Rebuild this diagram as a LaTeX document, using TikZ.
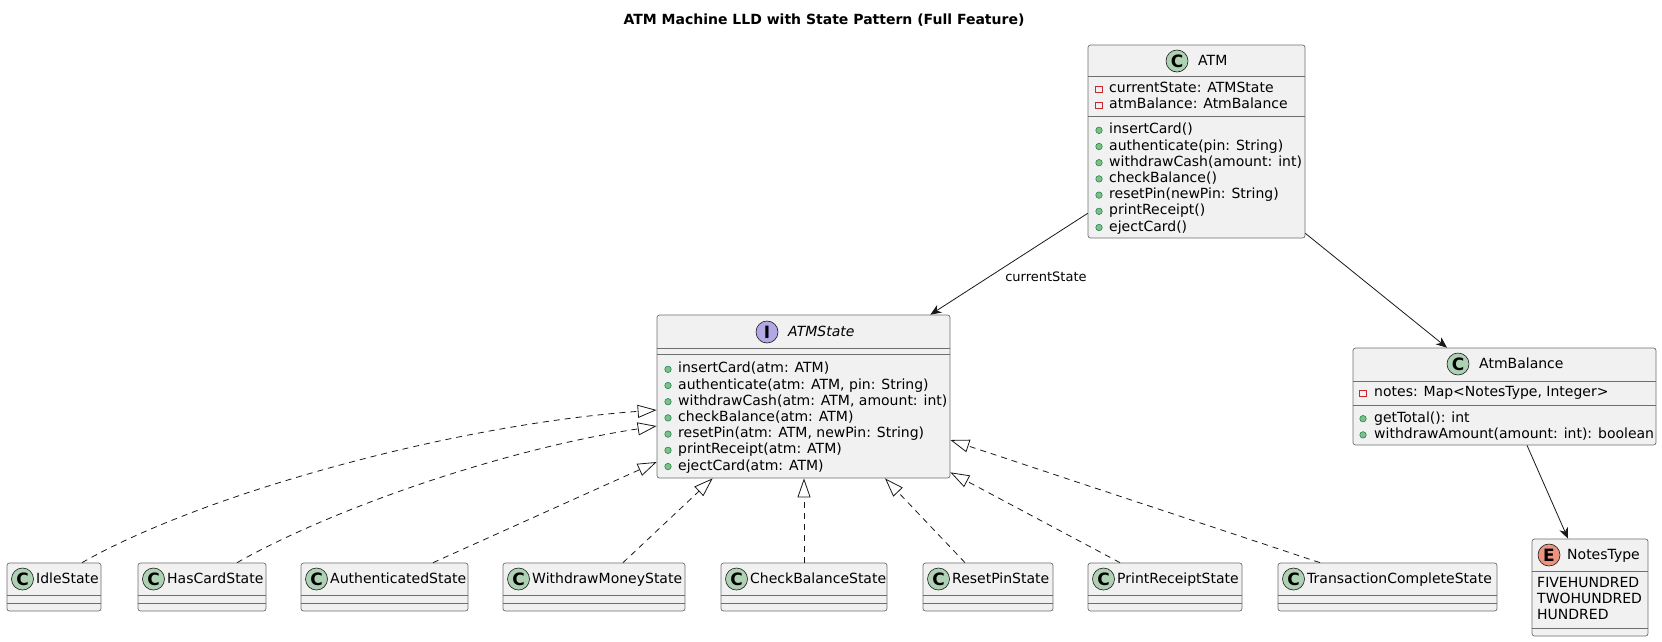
\documentclass[tikz,border=0pt]{standalone}
\usepackage{fontspec}
\setmainfont{DejaVu Sans}
\usetikzlibrary{arrows.meta,calc}

\definecolor{boxfill}{HTML}{F1F1F1}
\definecolor{boxline}{HTML}{6E6E6E}
\definecolor{spotc}{HTML}{ADD1B2}
\definecolor{spoti}{HTML}{B4A7E5}
\definecolor{spote}{HTML}{EB937F}
\definecolor{pubfill}{HTML}{84BE84}
\definecolor{publine}{HTML}{038048}
\definecolor{privline}{HTML}{C82930}
\definecolor{edgeline}{HTML}{181818}

\tikzset{
  classbox/.style={draw=boxline, fill=boxfill, rounded corners=2.5pt, line width=0.7pt, inner sep=0pt},
  sepline/.style={draw=boxline, line width=0.7pt},
  spot/.style={circle, draw=edgeline, line width=0.6pt, minimum size=22pt, inner sep=0pt,
    font=\fontsize{17}{17}\selectfont\bfseries},
  member/.style={anchor=west, inner sep=0pt, text height=10pt, text depth=3pt,
    font=\fontsize{14}{16}\selectfont},
  pub/.style={circle, draw=publine, fill=pubfill, minimum size=6.5pt, inner sep=0pt, line width=0.5pt},
  priv/.style={rectangle, draw=privline, minimum size=6.5pt, inner sep=0pt, line width=0.7pt},
  assoc/.style={draw=edgeline, line width=0.8pt, -{Stealth[length=11pt,width=9pt,inset=3.5pt]}},
  realize/.style={draw=edgeline, line width=0.8pt, dash pattern=on 6pt off 5pt,
    -{Triangle[open,length=19pt,width=13pt]}},
}

\begin{document}
\begin{tikzpicture}[x=1pt,y=-1pt]
\useasboundingbox (0,0) rectangle (1662,641);
\node[font=\fontsize{14}{16}\selectfont\bfseries] (title) at (824,20) {ATM Machine LLD with State Pattern (Full Feature)};

% ATM
\node[classbox, minimum width=217pt, minimum height=193pt] (atm) at (1196.5,141.5) {};
\draw[sepline] (atm.west |- 0,76) -- (atm.east |- 0,76);
\draw[sepline] (atm.west |- 0,116) -- (atm.east |- 0,116);
\node[spot, fill=spotc] (atm-spot) at (1177,61) {C};
\node[member] (atm-name) at (1198,62) {ATM};
\foreach \txt [count=\i] in {currentState: ATMState, atmBalance: AtmBalance}{
  \node[priv] (atm-pk\i) at (1099,{73.3+16*\i}) {};
  \node[member] (atm-a\i) at (1109,{73.3+16*\i}) {\txt};
}
\foreach \txt [count=\i] in {insertCard(), authenticate(pin: String), withdrawCash(amount: int),
    checkBalance(), resetPin(newPin: String), printReceipt(), ejectCard()}{
  \node[pub] (atm-mk\i) at (1099,{114.1+16.2*\i}) {};
  \node[member] (atm-m\i) at (1109,{114.1+16.2*\i}) {\txt};
}

% ATMState
\node[classbox, minimum width=293pt, minimum height=163pt] (atmstate) at (803.5,396.5) {};
\draw[sepline] (atmstate.west |- 0,348) -- (atmstate.east |- 0,348);
\draw[sepline] (atmstate.west |- 0,354) -- (atmstate.east |- 0,354);
\node[spot, fill=spoti] (atmstate-spot) at (767,332) {I};
\node[member, font=\fontsize{14}{16}\selectfont\itshape] (atmstate-name) at (788,333) {ATMState};
\foreach \txt [count=\i] in {insertCard(atm: ATM), {authenticate(atm: ATM, pin: String)},
    {withdrawCash(atm: ATM, amount: int)}, checkBalance(atm: ATM),
    {resetPin(atm: ATM, newPin: String)}, printReceipt(atm: ATM), ejectCard(atm: ATM)}{
  \node[pub] (atmstate-mk\i) at (668,{353.1+16.2*\i}) {};
  \node[member] (atmstate-m\i) at (678,{353.1+16.2*\i}) {\txt};
}

% AtmBalance
\node[classbox, minimum width=303pt, minimum height=97pt] (atmbal) at (1504.5,396.5) {};
\draw[sepline] (atmbal.west |- 0,381) -- (atmbal.east |- 0,381);
\draw[sepline] (atmbal.west |- 0,405) -- (atmbal.east |- 0,405);
\node[spot, fill=spotc] (atmbal-spot) at (1458,364) {C};
\node[member] (atmbal-name) at (1479,365) {AtmBalance};
\node[priv] (atmbal-pk1) at (1363,393.3) {};
\node[member] (atmbal-a1) at (1374,393.3) {notes: Map<NotesType, Integer>};
\foreach \txt [count=\i] in {getTotal(): int, withdrawAmount(amount: int): boolean}{
  \node[pub] (atmbal-mk\i) at (1363,{402.5+16.2*\i}) {};
  \node[member] (atmbal-m\i) at (1374,{402.5+16.2*\i}) {\txt};
}

% NotesType
\node[classbox, minimum width=116pt, minimum height=97pt] (notes) at (1590,587.5) {};
\draw[sepline] (notes.west |- 0,571) -- (notes.east |- 0,571);
\draw[sepline] (notes.west |- 0,628) -- (notes.east |- 0,628);
\node[spot, fill=spote] (notes-spot) at (1549,555) {E};
\node[member] (notes-name) at (1567,556) {NotesType};
\foreach \txt [count=\i] in {FIVEHUNDRED, TWOHUNDRED, HUNDRED}
  \node[member] (notes-v\i) at (1537,{568+16*\i}) {\txt};

% states
\foreach \nm/\lx/\rx/\lbl in {idle/7/101/IdleState, hascard/138/266/HasCardState,
    auth/301/468/AuthenticatedState, withdraw/503/685/WithdrawMoneyState,
    checkbal/721/887/CheckBalanceState, resetpin/923/1053/ResetPinState,
    printrec/1088/1242/PrintReceiptState, txdone/1278/1497/TransactionCompleteState}{
  \pgfmathsetmacro\w{\rx-\lx}
  \pgfmathsetmacro\cx{(\lx+\rx)/2}
  \node[classbox, minimum width=\w pt, minimum height=48pt] (\nm) at (\cx,587) {};
  \draw[sepline] (\nm.west |- 0,595) -- (\nm.east |- 0,595);
  \draw[sepline] (\nm.west |- 0,603) -- (\nm.east |- 0,603);
  \node[spot, fill=spotc] (\nm-spot) at ({\lx+15.5},579) {C};
  \node[member] (\nm-name) at ({\lx+29},580) {\lbl};
}

% relations
\draw[assoc] ($(atm.south west)+(0,-25)$) -- ($(atmstate.north east)+(-20,0)$)
  node[pos=0.63, anchor=west, xshift=13pt, font=\fontsize{13}{15}\selectfont] (current-lbl) {currentState};
\draw[assoc] ($(atm.south east)+(0,-5)$) -- ($(atmbal.north)+(-57.5,0)$);
\draw[assoc] ($(atmbal.south)+(22.5,0)$) -- ($(notes.north)+(-22,0)$);

\draw[realize] ($(idle.north)+(28,0)$) .. controls (200,495) and (450,425) .. ($(atmstate.west)+(0,13.5)$);
\draw[realize] ($(hascard.north)+(35,0)$) .. controls (330,510) and (500,450) .. ($(atmstate.west)+(0,29.5)$);
\draw[realize] ($(auth.north)+(48.5,0)$) -- ($(atmstate.west)+(0,65.5)$);
\draw[realize] ($(withdraw.north)+(29,0)$) -- ($(atmstate.south west)+(56,0)$);
\draw[realize] (checkbal.north) -- (checkbal.north |- atmstate.south);
\draw[realize] ($(resetpin.north)+(-23,0)$) -- ($(atmstate.south)+(81.5,0)$);
\draw[realize] ($(printrec.north)+(-45,0)$) -- ($(atmstate.south east)+(0,-6)$);
\draw[realize] ($(txdone.north)+(-67.5,0)$) -- ($(atmstate.east)+(0,43.5)$);
\end{tikzpicture}
\end{document}
